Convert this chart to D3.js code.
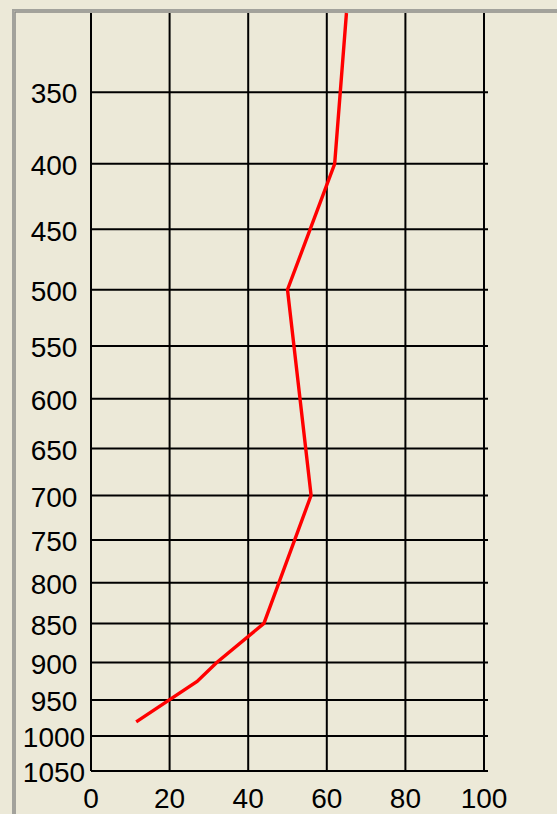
<!DOCTYPE html>
<html>
<head>
<meta charset="utf-8">
<script src="https://cdn.jsdelivr.net/npm/d3@7"></script>
<style>
  html, body { margin: 0; padding: 0; background: #ECE9D8; }
  svg { display: block; }
  .tick text { font-family: "Liberation Sans Narrow", "Liberation Sans", Arial, sans-serif; font-size: 28px; fill: #000; }
</style>
</head>
<body>
<div id="chart"></div>
<script>
const ancho = 557;
const alto = 814;
const plot = { izq: 91, der: 484, sup: 13, inf: 771 };

// datos
const presion = [300, 400, 500, 700, 850, 900, 925, 980];
const humedad = [65, 62, 50, 56, 44, 32, 27, 11.5];
const ticksY = [350, 400, 450, 500, 550, 600, 650, 700, 750, 800, 850, 900, 950, 1000, 1050];
const ticksX = [0, 20, 40, 60, 80, 100];

const svg = d3.select("#chart").append("svg")
  .attr("width", ancho)
  .attr("height", alto);

svg.append("rect").attr("width", ancho).attr("height", alto).attr("fill", "#ECE9D8");

// marco hundido
svg.append("path")
  .attr("d", `M13,${alto} V10 H${ancho}`)
  .attr("fill", "none").attr("stroke", "#a2a29c").attr("stroke-width", 2);
svg.append("path")
  .attr("d", `M15,${alto} V12 H${ancho}`)
  .attr("fill", "none").attr("stroke", "#8a8a86").attr("stroke-width", 1.5);

// escalas
const x = d3.scaleLinear().domain([0, 100]).range([plot.izq, plot.der]);
const y = d3.scalePow().exponent(0.286).domain([300, 1050]).range([plot.sup, plot.inf]);

// rejilla + etiquetas
const ejeY = d3.axisLeft(y)
  .tickValues(ticksY)
  .tickFormat(d3.format("d"))
  .tickSize(-(plot.der - plot.izq + 4))
  .tickPadding(37)
  .offset(0);
const gY = svg.append("g").attr("transform", `translate(${plot.izq},0)`).call(ejeY);
gY.select(".domain").remove();
gY.selectAll("line").attr("stroke", "#000").attr("stroke-width", 2);
gY.selectAll("text").attr("text-anchor", "middle").attr("dy", "0.4em");

const ejeX = d3.axisBottom(x)
  .tickValues(ticksX)
  .tickFormat(d3.format("d"))
  .tickSize(-(plot.inf - plot.sup))
  .tickPadding(17)
  .offset(0);
const gX = svg.append("g").attr("transform", `translate(0,${plot.inf})`).call(ejeX);
gX.select(".domain").remove();
gX.selectAll("line").attr("stroke", "#000").attr("stroke-width", 2);

// linea
const datos = presion.map((p, i) => ({ p: p, h: humedad[i] }));
const linea = d3.line().x(d => x(d.h)).y(d => y(d.p));
svg.append("path")
  .datum(datos)
  .attr("fill", "none")
  .attr("stroke", "#ff0000")
  .attr("stroke-width", 3.4)
  .attr("d", linea);
</script>
</body>
</html>
